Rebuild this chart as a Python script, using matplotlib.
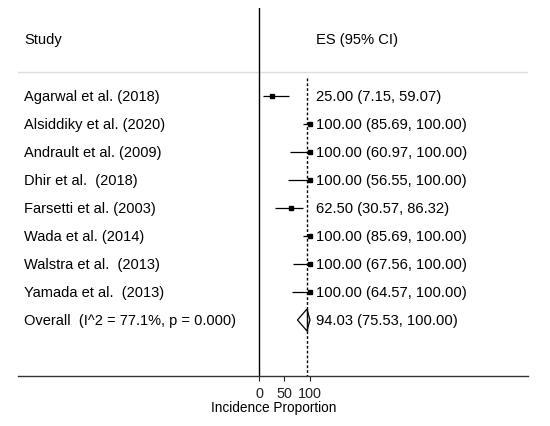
import matplotlib
matplotlib.use("Agg")
import matplotlib.pyplot as plt
import matplotlib.transforms as mtransforms

studies = ["Agarwal et al. (2018)", "Alsiddiky et al. (2020)", "Andrault et al. (2009)",
           "Dhir et al.  (2018)", "Farsetti et al. (2003)", "Wada et al. (2014)",
           "Walstra et al.  (2013)", "Yamada et al.  (2013)"]
es = [25.00, 100.00, 100.00, 100.00, 62.50, 100.00, 100.00, 100.00]
ci_lo = [7.15, 85.69, 60.97, 56.55, 30.57, 85.69, 67.56, 64.57]
ci_hi = [59.07, 100.00, 100.00, 100.00, 86.32, 100.00, 100.00, 100.00]
overall_label = "Overall  (I^2 = 77.1%, p = 0.000)"
overall_es = 94.03
overall_lo = 75.53
overall_hi = 100.00
xticks = [0, 50, 100]
xlabel = "Incidence Proportion"

plt.rcParams['font.family'] = ['Liberation Sans', 'DejaVu Sans']

W, H = 550, 427
fig = plt.figure(figsize=(W / 100, H / 100), dpi=100)
ax = fig.add_axes([18 / W, 1 - 377 / H, 510 / W, 368 / H])
ax.set_xlim(-472.5, 527.5)
ax.set_ylim(10.0, -3.143)

for s in ['top', 'right', 'left']:
    ax.spines[s].set_visible(False)
ax.spines['bottom'].set_color('#333333')
ax.spines['bottom'].set_linewidth(1.0)
ax.set_yticks([])
ax.set_xticks(xticks)
ax.set_xticklabels([str(t) for t in xticks], fontsize=10.4)
ax.tick_params(axis='x', direction='out', length=3.6, width=0.8, pad=3.5, colors='#222222')

fs_lab = 10.5
fs_es = 10.65
lab_x = -460.8
es_x = 111.0

# header
ax.text(lab_x, -2.04, "Study", fontsize=fs_lab, va='center', ha='left')
ax.text(es_x, -2.04, "ES (95% CI)", fontsize=fs_es, va='center', ha='left')
ax.axhline(-0.857, color='#dddddd', lw=1.0)

# null line
ax.axvline(0, color='black', lw=1.0)
# overall dashed line
ax.plot([overall_es, overall_es], [-0.64, 10.0], color='black', lw=1.0,
        ls=(0, (2.0, 1.5)))

for i, (name, e, lo, hi) in enumerate(zip(studies, es, ci_lo, ci_hi)):
    ax.plot([lo, hi], [i, i], color='black', lw=0.9, solid_capstyle='butt')
    ax.plot([e], [i], marker='s', color='black', markersize=2.6, ls='none')
    ax.text(lab_x, i, name, fontsize=fs_lab, va='center', ha='left')
    ax.text(es_x, i, f"{e:.2f} ({lo:.2f}, {hi:.2f})", fontsize=fs_es, va='center', ha='left')

io = len(studies)
ax.fill([overall_lo, overall_es, overall_hi, overall_es, overall_lo],
        [io, io - 0.39, io, io + 0.39, io], facecolor='white', edgecolor='black', lw=0.9)
ax.plot([overall_es, overall_es], [io - 0.39, io + 0.39], color='black', lw=1.0,
        ls=(0, (2.0, 1.5)))
ax.text(lab_x, io, overall_label, fontsize=fs_lab, va='center', ha='left')
ax.text(es_x, io, f"{overall_es:.2f} ({overall_lo:.2f}, {overall_hi:.2f})",
        fontsize=fs_es, va='center', ha='left')

trans = mtransforms.blended_transform_factory(ax.transData, ax.transAxes)
ax.text(28.4, -31.5 / 368, xlabel, fontsize=9.8, ha='center', va='center', transform=trans)

fig.savefig("out.png", dpi=100, facecolor='white')
